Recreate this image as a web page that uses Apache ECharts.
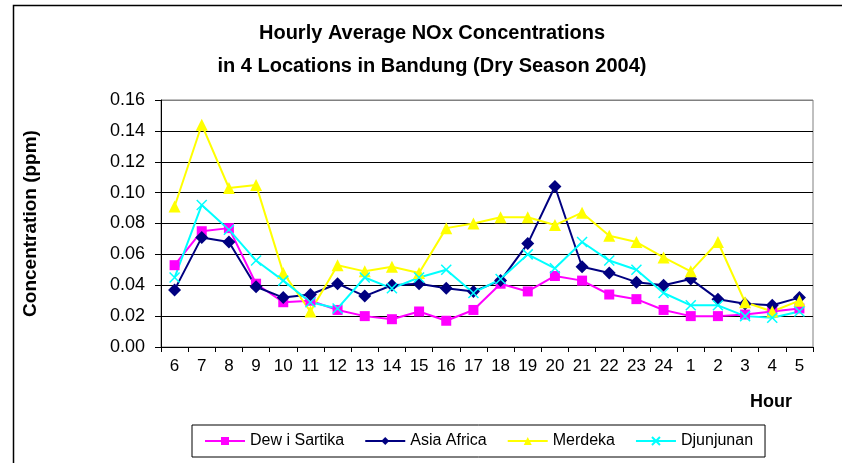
<!DOCTYPE html>
<html>
<head>
<meta charset="utf-8">
<script src="https://cdn.jsdelivr.net/npm/echarts@6/dist/echarts.min.js"></script>
<style>
  html, body { margin: 0; padding: 0; background: #fff; }
  #chart { width: 842px; height: 463px; }
</style>
</head>
<body>
<div id="chart"></div>
<script>
var hours = ['6','7','8','9','10','11','12','13','14','15','16','17','18','19','20','21','22','23','24','1','2','3','4','5'];

var dewiSartika = [0.053,0.075,0.077,0.041,0.029,0.030,0.024,0.020,0.018,0.023,0.017,0.024,0.041,0.036,0.046,0.043,0.034,0.031,0.024,0.020,0.020,0.021,0.023,0.025];
var asiaAfrica  = [0.037,0.071,0.068,0.039,0.032,0.034,0.041,0.033,0.040,0.041,0.038,0.036,0.043,0.067,0.104,0.052,0.048,0.042,0.040,0.044,0.031,0.028,0.027,0.032];
var merdeka     = [0.091,0.144,0.103,0.105,0.048,0.023,0.053,0.049,0.052,0.048,0.077,0.080,0.084,0.084,0.079,0.087,0.072,0.068,0.058,0.049,0.068,0.029,0.023,0.030];
var djunjunan   = [0.045,0.092,0.076,0.056,0.043,0.029,0.025,0.045,0.038,0.045,0.050,0.035,0.044,0.060,0.051,0.068,0.056,0.050,0.035,0.027,0.027,0.020,0.019,0.023];

var yTicks = ['0.00','0.02','0.04','0.06','0.08','0.10','0.12','0.14','0.16'];

var font = "'Liberation Sans', Arial, sans-serif";
var crossPath = 'path://M0 0L10 10M10 0L0 10';

function lineSeries(name, data, color, symbol, size, extra) {
  var s = {
    name: name,
    type: 'line',
    data: data,
    symbol: symbol,
    symbolSize: size,
    lineStyle: { color: color, width: 2 },
    itemStyle: { color: color },
    emphasis: { disabled: true }
  };
  if (extra) s.itemStyle = extra;
  return s;
}

var chart = echarts.init(document.getElementById('chart'));
chart.setOption({
  animation: false,
  textStyle: { fontFamily: font },
  title: {
    text: 'Hourly Average NOx Concentrations\nin 4 Locations in Bandung (Dry Season 2004)',
    left: 427,
    textAlign: 'center',
    top: 12,
    textStyle: { fontFamily: font, fontSize: 20, fontWeight: 'bold', color: '#000', lineHeight: 33 }
  },
  legend: {
    left: 192,
    top: 425,
    padding: [8, 12],
    itemGap: 20,
    itemWidth: 40,
    itemHeight: 10,
    borderColor: '#000',
    borderWidth: 1,
    textStyle: { fontFamily: font, fontSize: 16, color: '#000' },
    data: ['Dew i Sartika', 'Asia Africa', 'Merdeka', 'Djunjunan']
  },
  grid: {
    left: 161, top: 100, right: 29, bottom: 116,
    show: true, borderColor: '#808080', borderWidth: 1
  },
  xAxis: {
    type: 'category',
    data: hours,
    boundaryGap: true,
    axisLine: { lineStyle: { color: '#000', width: 1 } },
    axisTick: { show: true, length: 5, inside: false, lineStyle: { color: '#000' } },
    axisLabel: { color: '#000', fontSize: 17, margin: 11, interval: 0 }
  },
  yAxis: {
    type: 'value',
    min: 0, max: 0.16, interval: 0.02,
    name: 'Concentration (ppm)',
    nameLocation: 'middle',
    nameGap: 121,
    nameRotate: 90,
    nameTextStyle: { fontFamily: font, fontSize: 19, fontWeight: 'bold', color: '#000' },
    axisLine: { show: true, lineStyle: { color: '#000', width: 1 } },
    axisTick: { show: true, length: 6, lineStyle: { color: '#000' } },
    axisLabel: {
      color: '#000', fontSize: 18, margin: 16,
      formatter: function (v) { return yTicks[Math.round(v / 0.02)]; }
    },
    splitLine: { show: true, lineStyle: { color: ['#000','#000','#000','#000','#000','#000','#000','#000','#808080'], width: 1 } }
  },
  graphic: [
    { type: 'rect', shape: { x: 13.5, y: 5.5, width: 840, height: 470 }, style: { fill: 'none', stroke: '#000', lineWidth: 1.5 }, silent: true },
    { type: 'text', left: 750, top: 393, style: { text: 'Hour', fontFamily: font, fontSize: 18, fontWeight: 'bold', fill: '#000' } }
  ],
  series: [
    lineSeries('Dew i Sartika', dewiSartika, '#FF00FF', 'rect', 10),
    lineSeries('Asia Africa', asiaAfrica, '#000080', 'diamond', 13),
    lineSeries('Merdeka', merdeka, '#FFFF00', 'triangle', 12),
    lineSeries('Djunjunan', djunjunan, '#00FFFF', crossPath, 10,
      { color: '#00FFFF', borderColor: '#00FFFF', borderWidth: 1.5 })
  ]
});
</script>
</body>
</html>
